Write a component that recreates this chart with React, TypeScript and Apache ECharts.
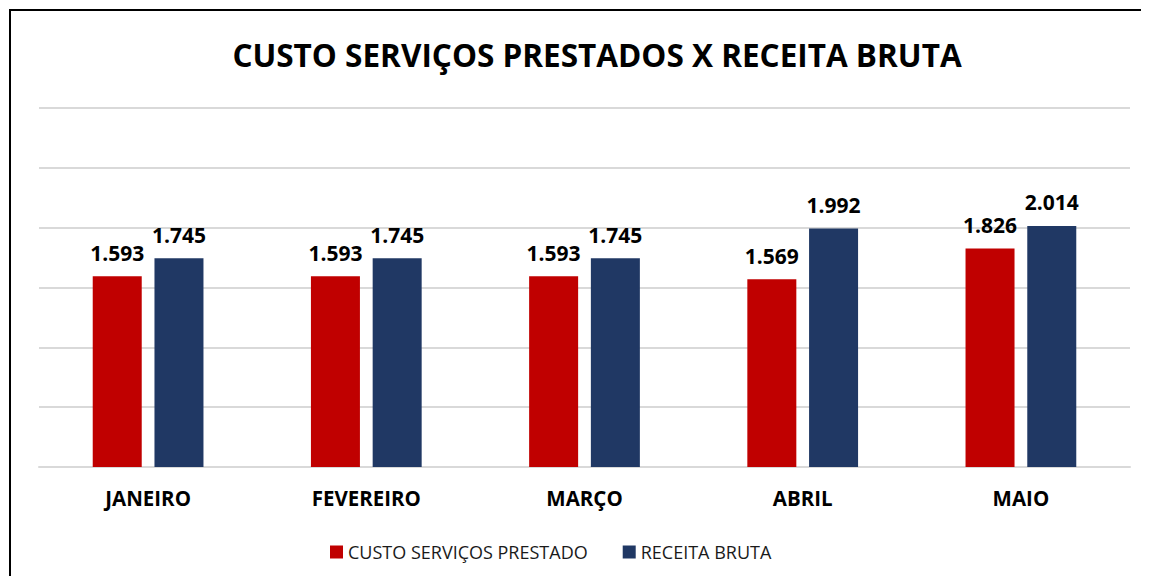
import React, { useEffect, useRef } from "react";
import * as echarts from "echarts";

const categories = ["JANEIRO", "FEVEREIRO", "MARÇO", "ABRIL", "MAIO"];
const custoServicos = [1593, 1593, 1593, 1569, 1826];
const receitaBruta = [1745, 1745, 1745, 1992, 2014];
const seriesNames = ["CUSTO SERVIÇOS PRESTADO", "RECEITA BRUTA"];
const titleText = "CUSTO SERVIÇOS PRESTADOS X RECEITA BRUTA";

const fmt = (v: number) => {
  const s = Math.round(v).toString();
  return s.replace(/\B(?=(\d{3})+(?!\d))/g, ".");
};

const FONT = "'Open Sans', 'Liberation Sans', sans-serif";

export default function App() {
  const ref = useRef<HTMLDivElement>(null);
  useEffect(() => {
    if (!ref.current) return;
    const chart = echarts.init(ref.current, null, { renderer: "svg" });
    const labelCfg = {
      show: true,
      position: "top",
      distance: 13,
      formatter: (p: any) => fmt(p.value),
      fontFamily: FONT,
      fontSize: 21,
      fontWeight: "bold",
      color: "#000000",
    };
    chart.setOption({
      animation: false,
      backgroundColor: "#ffffff",
      graphic: [
        {
          type: "text",
          x: 586,
          y: 43,
          style: {
            text: titleText,
            font: `bold 31.5px ${FONT}`,
            fill: "#000000",
            textAlign: "center",
            textVerticalAlign: "middle",
          },
        },
      ],
      legend: {
        data: seriesNames,
        left: 314,
        top: 527,
        itemWidth: 13,
        itemHeight: 13,
        itemGap: 35,
        icon: "rect",
        textStyle: { fontFamily: FONT, fontSize: 18, color: "#1a1a1a" },
      },
      grid: { left: 28, top: 97, width: 1091, height: 359 },
      xAxis: {
        type: "category",
        data: categories,
        axisLine: { show: true, lineStyle: { color: "#d9d9d9", width: 2 } },
        axisTick: { show: false },
        axisLabel: {
          margin: 20,
          fontFamily: FONT,
          fontSize: 20.5,
          fontWeight: "bold",
          color: "#000000",
        },
      },
      yAxis: {
        type: "value",
        min: 0,
        max: 3000,
        interval: 500,
        axisLabel: { show: false },
        axisLine: { show: false },
        axisTick: { show: false },
        splitLine: { lineStyle: { color: "#d9d9d9", width: 2 } },
      },
      series: [
        {
          name: seriesNames[0],
          type: "bar",
          data: custoServicos,
          barWidth: 49,
          barGap: "26%",
          itemStyle: { color: "#C00000" },
          label: labelCfg,
        },
        {
          name: seriesNames[1],
          type: "bar",
          data: receitaBruta,
          barWidth: 49,
          itemStyle: { color: "#203864" },
          label: labelCfg,
        },
      ],
    });
    return () => chart.dispose();
  }, []);
  return (
    <div
      style={{
        width: 1132,
        height: 567,
        marginLeft: 1,
        marginTop: 1,
        borderTop: "2px solid #000",
        borderLeft: "2px solid #000",
        boxSizing: "border-box",
        overflow: "hidden",
        background: "#fff",
      }}
    >
      <div ref={ref} style={{ width: 1130, height: 565 }} />
    </div>
  );
}
